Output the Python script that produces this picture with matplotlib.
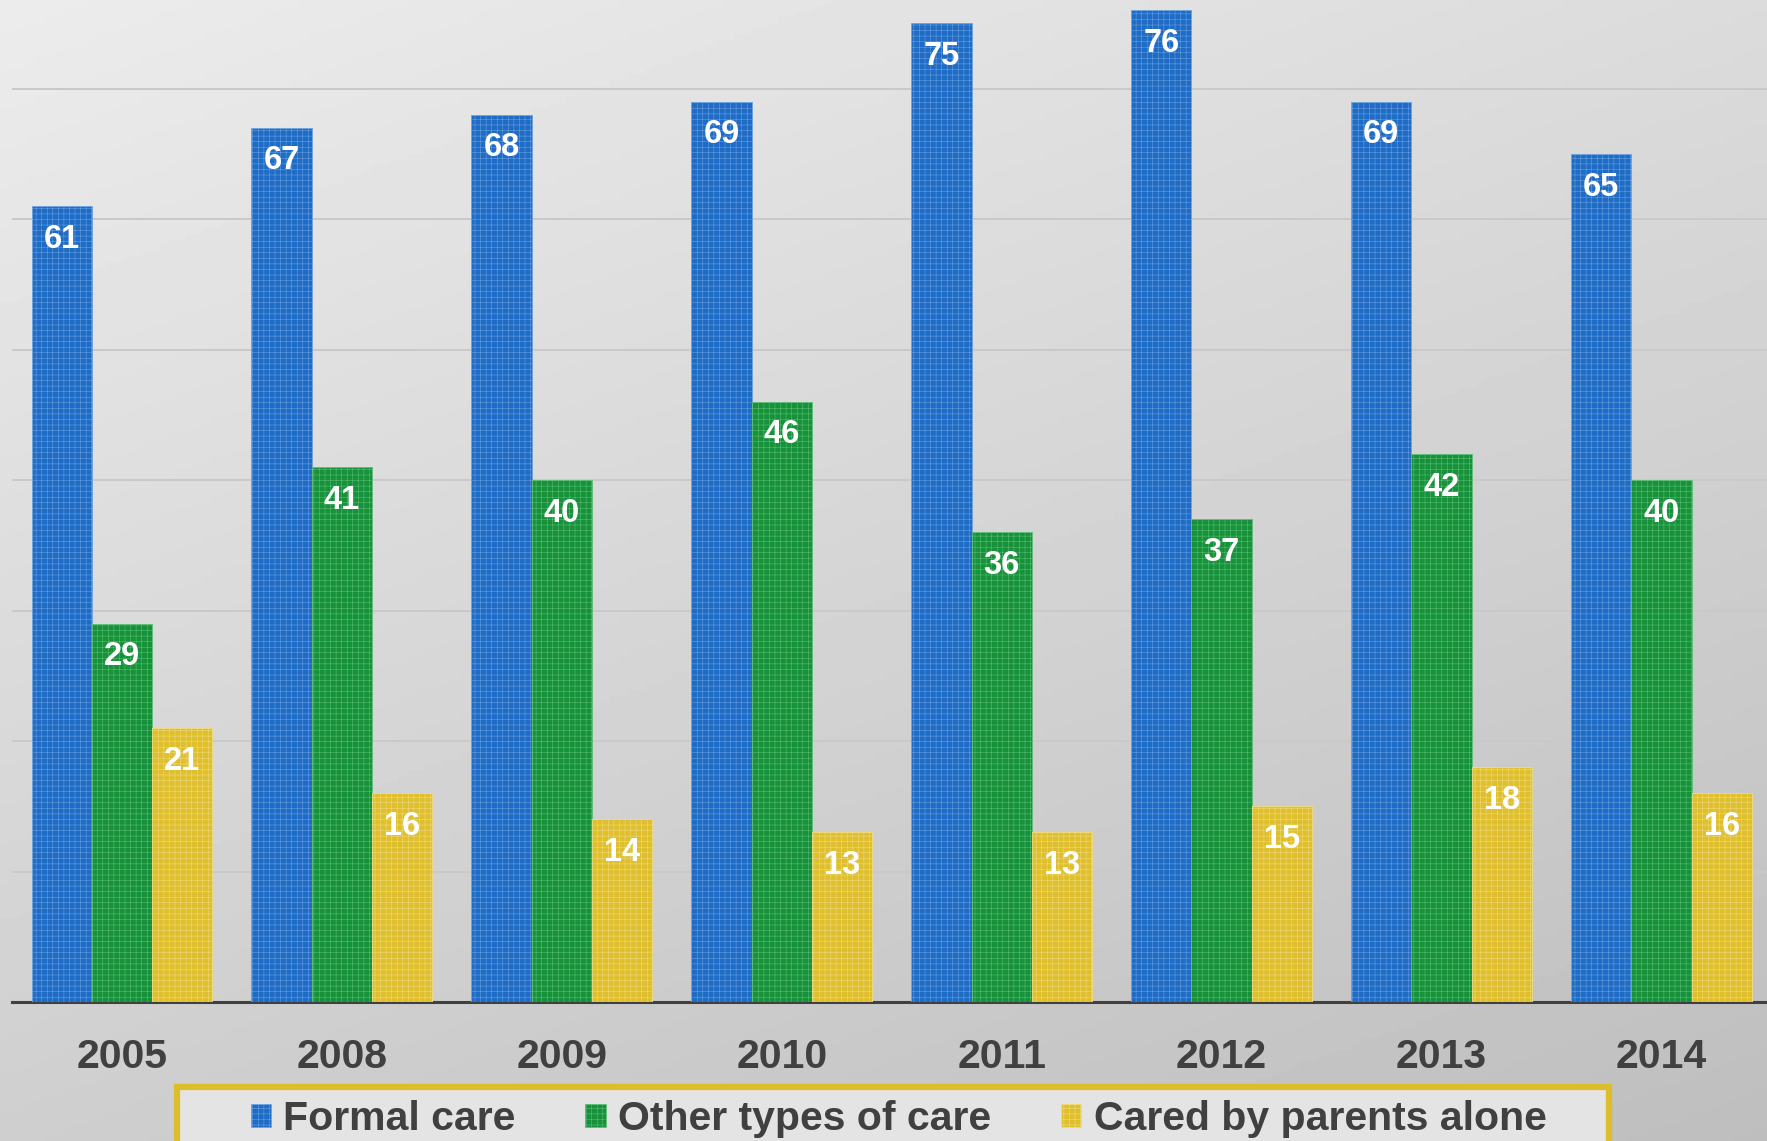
import numpy as np
import matplotlib
matplotlib.use("Agg")
from matplotlib import pyplot as plt
from matplotlib.patches import Rectangle

plt.rcParams['font.family'] = ['Liberation Sans', 'DejaVu Sans']
plt.rcParams['hatch.linewidth'] = 0.35

years = ['2005', '2008', '2009', '2010', '2011', '2012', '2013', '2014']
formal_care = [61, 67, 68, 69, 75, 76, 69, 65]
other_care = [29, 41, 40, 46, 36, 37, 42, 40]
parents_alone = [21, 16, 14, 13, 13, 15, 18, 16]
series_names = ['Formal care', 'Other types of care', 'Cared by parents alone']

colors = ['#1f6cc6', '#17923a', '#e0bf2e']
edge_colors = ['#6fa3e0', '#5fbf78', '#f0dc80']
text_color = '#404040'

fig = plt.figure(figsize=(17.67, 11.41), dpi=100)

# background gradient
bg = fig.add_axes([0, 0, 1, 1], zorder=-10)
gx, gy = np.meshgrid(np.linspace(0, 1, 200), np.linspace(0, 1, 200))
shade = 0.925 - 0.065 * gx - 0.115 * gy
bg.imshow(shade, cmap='gray', vmin=0, vmax=1, aspect='auto', extent=[0, 1, 0, 1], origin='upper')
bg.axis('off')

ax = fig.add_axes([12 / 1767, 139 / 1141, 1 - 12 / 1767, 1 - 139 / 1141])
ax.patch.set_alpha(0)

x = np.arange(len(years))
w = 0.274
for i, vals in enumerate([formal_care, other_care, parents_alone]):
    bars = ax.bar(x + (i - 1) * w, vals, width=w, color=colors[i], edgecolor=edge_colors[i],
                  linewidth=0.6, hatch='+++', label=series_names[i], zorder=3)
    ax.bar_label(bars, padding=-35, color='white', fontsize=23.5, fontweight='bold')

ax.set_xlim(-0.5, 7.48)
ax.set_ylim(0, 76.8)
ax.set_yticks(np.arange(0, 80, 10))
ax.yaxis.grid(True, color='#c9c9c9', linewidth=1.4, zorder=0)
ax.set_axisbelow(True)
ax.tick_params(axis='y', left=False, labelleft=False)
ax.set_xticks(x)
ax.set_xticklabels(years, fontsize=29.5, fontweight='bold', color=text_color)
ax.tick_params(axis='x', length=0, pad=26)
for s in ['left', 'right', 'top']:
    ax.spines[s].set_visible(False)
ax.spines['bottom'].set_color(text_color)
ax.spines['bottom'].set_linewidth(2.2)

# legend box
fig.patches.append(Rectangle((177 / 1767, -0.05), 1432 / 1767, 0.05 + 54 / 1141,
                             transform=fig.transFigure, facecolor='#e4e4e4',
                             edgecolor='#dcbd2a', linewidth=4.5, zorder=1))
leg = fig.legend(loc='center', bbox_to_anchor=(0.5085, 0.019), ncols=3, frameon=False,
                 fontsize=29.5, handlelength=0.5, handleheight=0.5, handletextpad=0.3,
                 columnspacing=1.7, borderpad=0)
for t in leg.get_texts():
    t.set_color(text_color)
    t.set_fontweight('bold')

fig.savefig('out.png', dpi=100)
